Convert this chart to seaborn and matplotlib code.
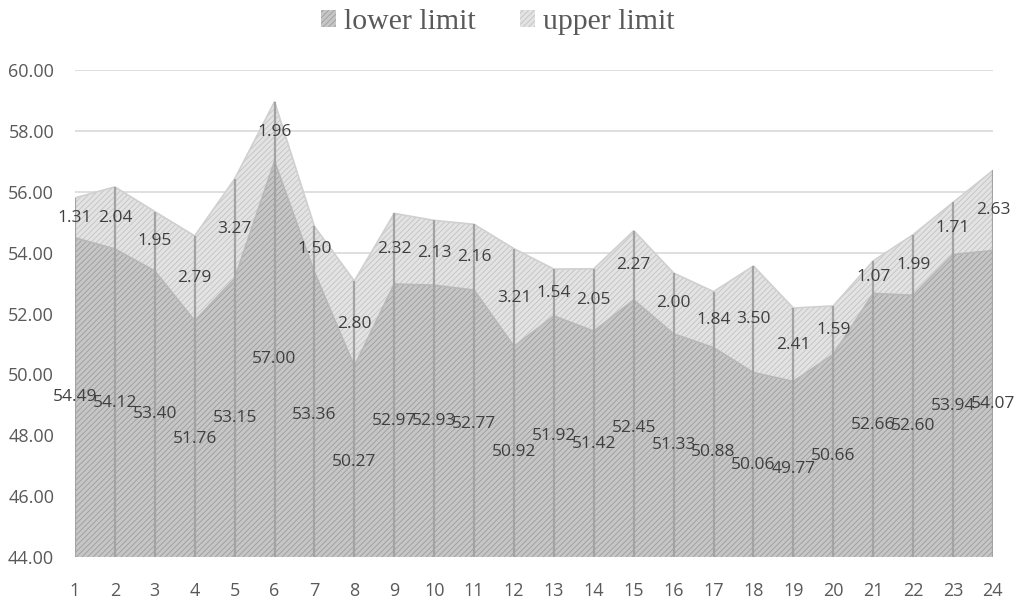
import numpy as np
import matplotlib
matplotlib.use("Agg")
import matplotlib.pyplot as plt
import seaborn as sns
from matplotlib.patches import Patch

# data
points = list(range(1, 25))
lower_limit = [54.49, 54.12, 53.40, 51.76, 53.15, 57.00, 53.36, 50.27, 52.97, 52.93, 52.77, 50.92,
               51.92, 51.42, 52.45, 51.33, 50.88, 50.06, 49.77, 50.66, 52.66, 52.60, 53.94, 54.07]
upper_limit = [1.31, 2.04, 1.95, 2.79, 3.27, 1.96, 1.50, 2.80, 2.32, 2.13, 2.16, 3.21,
               1.54, 2.05, 2.27, 2.00, 1.84, 3.50, 2.41, 1.59, 1.07, 1.99, 1.71, 2.63]
y_ticks = [44, 46, 48, 50, 52, 54, 56, 58, 60]

sns.set_style("white")
plt.rcParams['font.family'] = ['Open Sans', 'DejaVu Sans']
plt.rcParams['hatch.linewidth'] = 0.6

x = np.array(points)
low = np.array(lower_limit)
up = np.array(upper_limit)
top = low + up
floor = y_ticks[0]

fig = plt.figure(figsize=(10.16, 5.99), dpi=100)
ax = fig.add_axes([0.0738, 0.0701, 0.9035, 0.8130])

# stacked areas with hatching
ax.fill_between(x, floor, low, facecolor="#c6c6c6", edgecolor="#9c9c9c", hatch="//////", linewidth=0, zorder=2)
ax.fill_between(x, low, top, facecolor="#e3e3e3", edgecolor="#c2c2c2", hatch="//////", linewidth=0, zorder=2)
sns.lineplot(x=x, y=low, ax=ax, color="#b8b8b8", linewidth=1.2, zorder=3)
sns.lineplot(x=x, y=top, ax=ax, color="#d0d0d0", linewidth=1.2, zorder=3)

# drop lines
ax.vlines(x, floor, top, color="#a3a3a3", linewidth=1.6, zorder=4)

# data labels
for xi, lo, u in zip(x, low, up):
    ax.text(xi, (floor + lo) / 2, f"{lo:.2f}", ha="center", va="center", fontsize=12.5, color="#404040", zorder=5)
    ax.text(xi, lo + u / 2, f"{u:.2f}", ha="center", va="center", fontsize=12.5, color="#404040", zorder=5)

ax.set_xlim(points[0], points[-1])
ax.set_ylim(y_ticks[0], y_ticks[-1])
ax.set_yticks(y_ticks)
ax.set_yticklabels([f"{v:.2f}" for v in y_ticks])
ax.set_xticks(points)
ax.set_xticklabels([str(p) for p in points])
ax.yaxis.grid(True, color="#d9d9d9", linewidth=1.2, zorder=0)
ax.set_axisbelow(True)
for s in ax.spines.values():
    s.set_visible(False)
ax.tick_params(axis="y", length=0, pad=15, labelsize=13, labelcolor="#595959")
ax.tick_params(axis="x", length=0, pad=18, labelsize=13, labelcolor="#595959")

handles = [Patch(facecolor="#c6c6c6", edgecolor="#9c9c9c", hatch="//////", linewidth=0),
           Patch(facecolor="#e3e3e3", edgecolor="#c2c2c2", hatch="//////", linewidth=0)]
fig.legend(handles, ["lower limit", "upper limit"], loc="upper center", bbox_to_anchor=(0.49, 1.03),
           ncol=2, frameon=False, handlelength=0.5, handleheight=0.5, handletextpad=0.25, columnspacing=1.5,
           prop={"family": "Liberation Serif", "size": 21.5}, labelcolor="#595959")

fig.savefig("out.png", dpi=100)
